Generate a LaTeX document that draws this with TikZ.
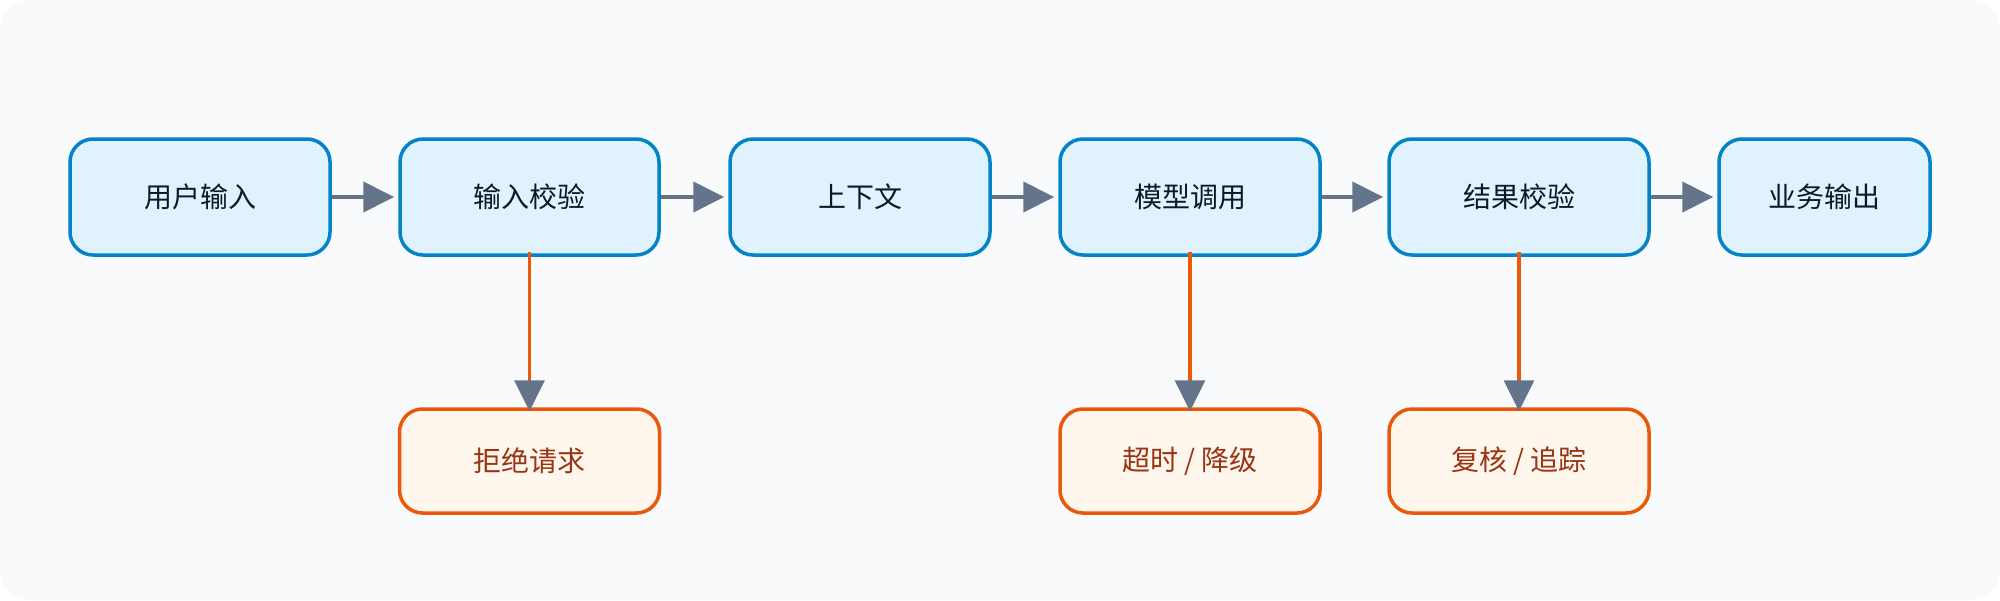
\documentclass[tikz,border=0pt]{standalone}
\usepackage{fontspec}
\setmainfont{Noto Sans CJK SC}
\usetikzlibrary{arrows.meta}
\definecolor{bg}{HTML}{F8FAFC}
\definecolor{bborder}{HTML}{0284C7}
\definecolor{bfill}{HTML}{E0F2FE}
\definecolor{btext}{HTML}{0F172A}
\definecolor{oborder}{HTML}{EA580C}
\definecolor{ofill}{HTML}{FFF7ED}
\definecolor{otext}{HTML}{9A3412}
\definecolor{arr}{HTML}{64748B}
\begin{document}
\begin{tikzpicture}[x=1pt,y=-1pt,
  box/.style={draw=bborder,fill=bfill,line width=3.5pt,rounded corners=23pt,text=btext,font=\fontsize{28}{32}\selectfont,minimum height=116pt,inner sep=0pt},
  obox/.style={draw=oborder,fill=ofill,line width=3.5pt,rounded corners=23pt,text=otext,font=\fontsize{28}{32}\selectfont,minimum height=104pt,minimum width=260pt,inner sep=0pt},
  harr/.style={draw=arr,line width=4pt,-{Triangle[length=31pt,width=30pt]},shorten >=4pt},
  varr/.style={draw=oborder,line width=3.5pt,-{Triangle[length=31pt,width=30pt,color=arr,fill=arr]}}]
\useasboundingbox (0,0) rectangle (2000,600);
\fill[bg,rounded corners=30pt] (0,0) rectangle (2000,600);
\node[box,minimum width=260pt] (a) at (200,197) {用户输入};
\node[box,minimum width=259pt] (b) at (529.5,197) {输入校验};
\node[box,minimum width=260pt] (c) at (860,197) {上下文};
\node[box,minimum width=260pt] (d) at (1190,197) {模型调用};
\node[box,minimum width=260pt] (e) at (1519,197) {结果校验};
\node[box,minimum width=211pt] (f) at (1824.5,197) {业务输出};
\node[obox] (g) at (529.5,461) {拒绝请求};
\node[obox] (h) at (1190,461) {超时 / 降级};
\node[obox] (i) at (1519,461) {复核 / 追踪};
\draw[harr] (a) -- (b);
\draw[harr] (b) -- (c);
\draw[harr] (c) -- (d);
\draw[harr] (d) -- (e);
\draw[harr] (e) -- (f);
\draw[varr] ([yshift=5pt]b.south) -- ([yshift=-4pt]g.north);
\draw[varr] ([yshift=5pt]d.south) -- ([yshift=-4pt]h.north);
\draw[varr] ([yshift=5pt]e.south) -- ([yshift=-4pt]i.north);
\end{tikzpicture}
\end{document}
